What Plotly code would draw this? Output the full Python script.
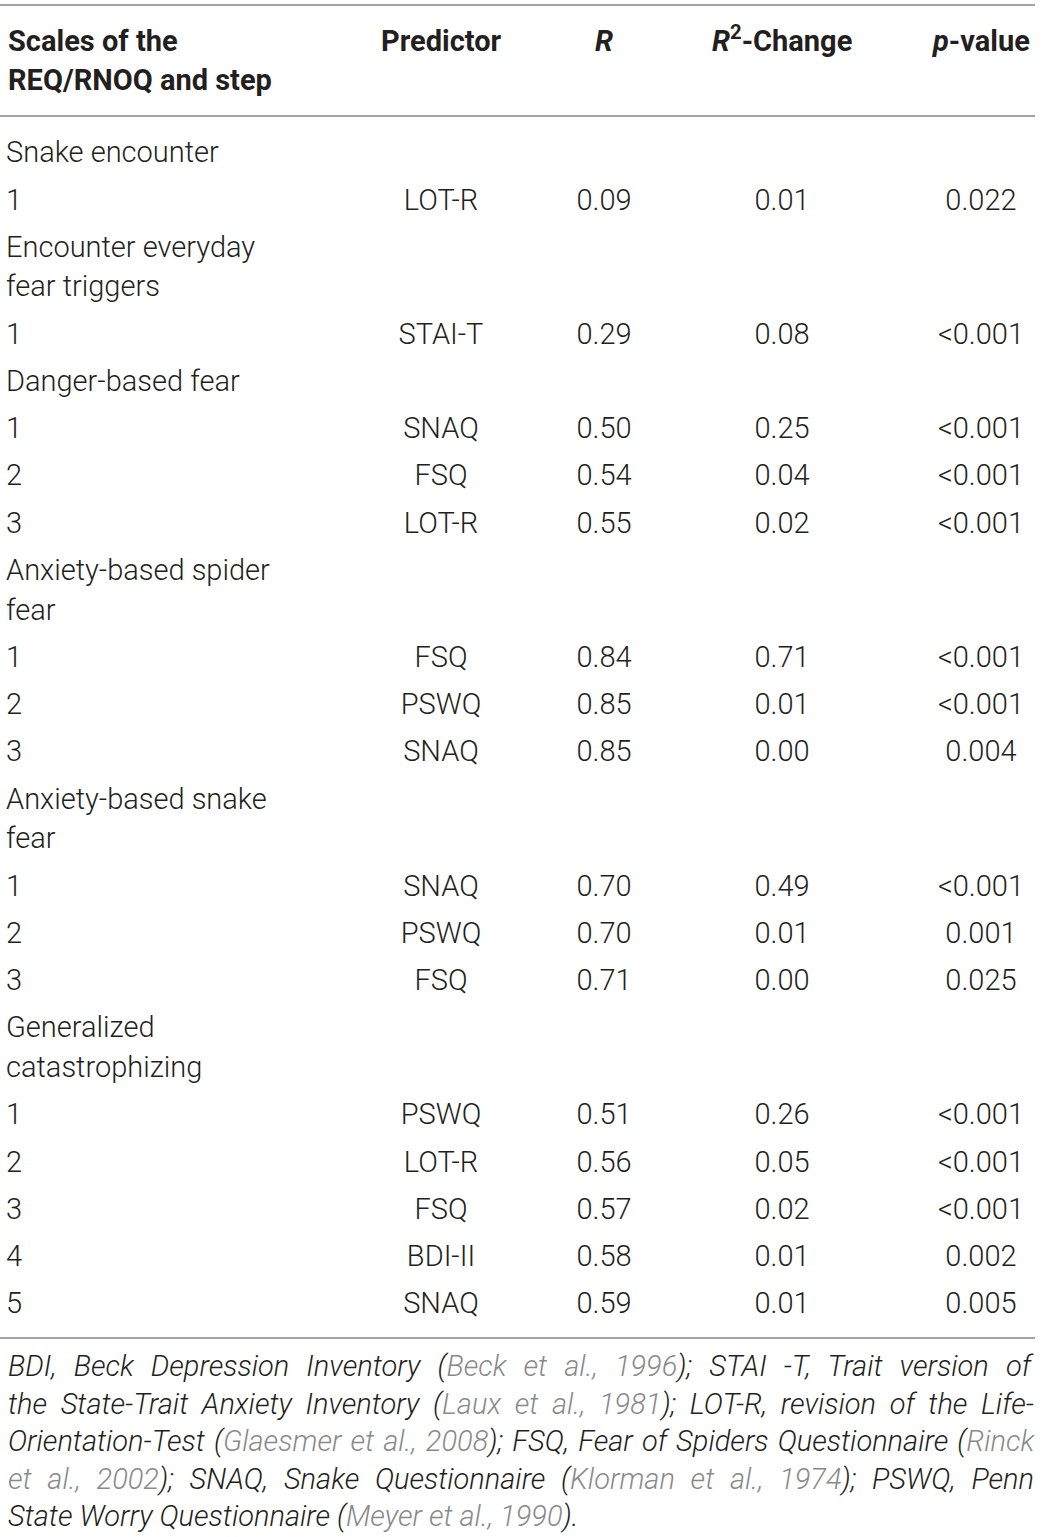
import re
import plotly.graph_objects as go

# table content, one entry per body line
groups = ["Snake encounter", "Encounter everyday fear triggers", "Danger-based fear",
          "Anxiety-based spider fear", "Anxiety-based snake fear",
          "Generalized catastrophizing"]
group_lines = [["Snake encounter"], ["Encounter everyday", "fear triggers"],
               ["Danger-based fear"], ["Anxiety-based spider", "fear"],
               ["Anxiety-based snake", "fear"], ["Generalized", "catastrophizing"]]
steps = [["1"], ["1"], ["1", "2", "3"], ["1", "2", "3"], ["1", "2", "3"],
         ["1", "2", "3", "4", "5"]]
predictors = [["LOT-R"], ["STAI-T"], ["SNAQ", "FSQ", "LOT-R"], ["FSQ", "PSWQ", "SNAQ"],
              ["SNAQ", "PSWQ", "FSQ"], ["PSWQ", "LOT-R", "FSQ", "BDI-II", "SNAQ"]]
r_vals = [["0.09"], ["0.29"], ["0.50", "0.54", "0.55"], ["0.84", "0.85", "0.85"],
          ["0.70", "0.70", "0.71"], ["0.51", "0.56", "0.57", "0.58", "0.59"]]
r2_change = [["0.01"], ["0.08"], ["0.25", "0.04", "0.02"], ["0.71", "0.01", "0.00"],
             ["0.49", "0.01", "0.00"], ["0.26", "0.05", "0.02", "0.01", "0.01"]]
p_vals = [["0.022"], ["<0.001"], ["<0.001", "<0.001", "<0.001"],
          ["<0.001", "<0.001", "0.004"], ["<0.001", "0.001", "0.025"],
          ["<0.001", "<0.001", "<0.001", "0.002", "0.005"]]

footnote = [
    "BDI, Beck Depression Inventory (<c>Beck et al., 1996</c>); STAI -T, Trait version of",
    "the State-Trait Anxiety Inventory (<c>Laux et al., 1981</c>); LOT-R, revision of the Life-",
    "Orientation-Test (<c>Glaesmer et al., 2008</c>); FSQ, Fear of Spiders Questionnaire (<c>Rinck</c>",
    "<c>et al., 2002</c>); SNAQ, Snake Questionnaire (<c>Klorman et al., 1974</c>); PSWQ, Penn",
    "State Worry Questionnaire (<c>Meyer et al., 1990</c>).",
]
# extra space between words so the note lines come out justified (last line ragged)
word_gap = [10.1, 6.6, 2.1, 8.7, 0]

FONT = "Roboto, Liberation Sans, Arial"
INK = "#231f20"
GREY = "#8a8a8a"
SIZE = 29

# vertical layout
row_step = 47.27
wrap_step = 39.6
y = 155
label_y, label_t = [], []
body_y, body_step, body_pred, body_r, body_r2, body_p = [], [], [], [], [], []
for g in range(len(groups)):
    for k, line in enumerate(group_lines[g]):
        label_y.append(y)
        label_t.append(line)
        y += wrap_step if k < len(group_lines[g]) - 1 else row_step
    for i in range(len(steps[g])):
        body_y.append(y)
        body_step.append(steps[g][i])
        body_pred.append(predictors[g][i])
        body_r.append(r_vals[g][i])
        body_r2.append(r2_change[g][i])
        body_p.append(p_vals[g][i])
        y += row_step

col_x = {"pred": 441, "r": 604, "r2": 782, "p": 981}

fig = go.Figure()
tf = dict(family=FONT, size=SIZE, color=INK, weight=300)

fig.add_trace(go.Scatter(x=[6] * len(label_y), y=label_y, text=label_t, mode="text",
                         textposition="middle right", textfont=tf, hoverinfo="skip",
                         cliponaxis=False))
fig.add_trace(go.Scatter(x=[6] * len(body_y), y=body_y, text=body_step, mode="text",
                         textposition="middle right", textfont=tf, hoverinfo="skip",
                         cliponaxis=False))
for key, vals in [("pred", body_pred), ("r", body_r), ("r2", body_r2), ("p", body_p)]:
    fig.add_trace(go.Scatter(x=[col_x[key]] * len(body_y), y=body_y, text=vals,
                             mode="text", textposition="middle center", textfont=tf,
                             hoverinfo="skip", cliponaxis=False))

# header
hf = dict(family=FONT, size=SIZE, color=INK, weight=700)
headers = [(6, 41, "left", "Scales of the"), (6, 80, "left", "REQ/RNOQ and step"),
           (col_x["pred"], 41, "center", "Predictor"),
           (col_x["r"], 41, "center", "<i>R</i>"),
           (col_x["r2"], 39, "center", "<i>R</i><sup>2</sup>-Change"),
           (col_x["p"], 41, "center", "<i>p</i>-value")]
for hx, hy, anc, txt in headers:
    fig.add_annotation(x=hx, y=hy, text="<b>" + txt + "</b>", showarrow=False,
                       xanchor=anc, yanchor="middle", font=hf)

# footnote, citations in grey
ff = dict(family=FONT, size=SIZE, color=INK, weight=300)
for i, line in enumerate(footnote):
    parts = re.split(r"(<c>.*?</c>)", line)
    txt = ""
    for part in parts:
        if not part:
            continue
        style = "word-spacing:%.1fpx" % word_gap[i]
        if part.startswith("<c>"):
            style += ";color:" + GREY
            part = part[3:-4]
        txt += "<span style='%s'>%s</span>" % (style, part)
    fig.add_annotation(x=6, y=1366 + i * 37.5, text="<i>" + txt + "</i>", showarrow=False,
                       xanchor="left", yanchor="middle", font=ff)

# rules
for ry in [5, 116, 1338]:
    fig.add_shape(type="line", x0=0, x1=1035, y0=ry, y1=ry,
                  line=dict(color="#a3a3a3", width=2))

fig.update_layout(
    width=1043, height=1537,
    margin=dict(l=0, r=0, t=0, b=0),
    plot_bgcolor="white", paper_bgcolor="white",
    showlegend=False,
    xaxis=dict(range=[0, 1043], visible=False, fixedrange=True),
    yaxis=dict(range=[1537, 0], visible=False, fixedrange=True),
)

# drop the page's default body margin so the figure sits at the window corner
fig.write_html("out.html", config={"displayModeBar": False},
               post_script="document.body.style.margin='0';")
